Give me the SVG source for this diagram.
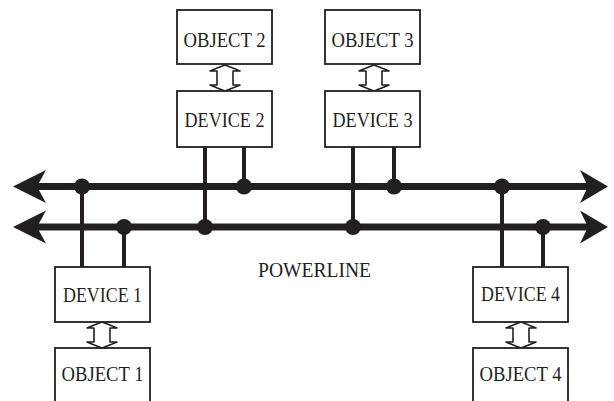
<svg xmlns="http://www.w3.org/2000/svg" width="614" height="401" viewBox="0 0 614 401">
<style>
.box{fill:#fff;stroke:#231f20;stroke-width:1.8}
.lbl{font-family:"Liberation Serif","Times New Roman",serif;font-size:20px;fill:#231f20;text-anchor:middle}
.big{font-size:21px}
.bus{stroke:#231f20;stroke-width:7;fill:none}
.leg{stroke:#231f20;stroke-width:4;fill:none}
.dot{fill:#231f20}
.head{fill:#231f20}
.dbl{fill:#fff;stroke:#231f20;stroke-width:1.6;stroke-linejoin:round}
</style>
<defs>
<path id="dblarrow" class="dbl" d="M0,0 Q-8,3 -15,6 L-8,6 L-8,20 L-15,20 Q-8,23 0,26 Q8,23 15,20 L8,20 L8,6 L15,6 Q8,3 0,0 Z"/>
</defs>
<g id="connectors">
<line class="bus" x1="36" y1="186.5" x2="588" y2="186.5"/>
<line class="bus" x1="36" y1="227" x2="588" y2="227"/>
<path class="head" d="M13,186.5 L46,170 L37,186.5 L46,203 Z"/>
<path class="head" d="M13,227 L46,210.5 L37,227 L46,243.5 Z"/>
<path class="head" d="M608,186.5 L580,170 L588,186.5 L580,203 Z"/>
<path class="head" d="M608,227 L580,210.5 L588,227 L580,243.5 Z"/>
<line class="leg" x1="82" y1="186" x2="82" y2="267"/>
<line class="leg" x1="124" y1="227" x2="124" y2="267"/>
<line class="leg" x1="205" y1="147" x2="205" y2="227"/>
<line class="leg" x1="244" y1="147" x2="244" y2="186"/>
<line class="leg" x1="353" y1="147" x2="353" y2="227"/>
<line class="leg" x1="394" y1="147" x2="394" y2="186"/>
<line class="leg" x1="502" y1="186" x2="502" y2="267"/>
<line class="leg" x1="543" y1="227" x2="543" y2="267"/>
<circle class="dot" cx="82" cy="186.5" r="8"/>
<circle class="dot" cx="244" cy="186.5" r="8"/>
<circle class="dot" cx="394" cy="186.5" r="8"/>
<circle class="dot" cx="502" cy="186.5" r="8"/>
<circle class="dot" cx="124" cy="227" r="8"/>
<circle class="dot" cx="205" cy="227" r="8"/>
<circle class="dot" cx="353" cy="227" r="8"/>
<circle class="dot" cx="543" cy="227" r="8"/>
<use href="#dblarrow" x="225" y="65"/>
<use href="#dblarrow" x="374" y="65"/>
<use href="#dblarrow" x="102" y="322"/>
<use href="#dblarrow" x="521" y="322"/>
</g>
<g id="object2"><rect class="box" x="177" y="10" width="95" height="54"/><text class="lbl" x="224.5" y="47" textLength="82" lengthAdjust="spacingAndGlyphs">OBJECT 2</text></g>
<g id="object3"><rect class="box" x="325" y="10" width="95" height="54"/><text class="lbl" x="372.5" y="47" textLength="82" lengthAdjust="spacingAndGlyphs">OBJECT 3</text></g>
<g id="device2"><rect class="box" x="177" y="91" width="95" height="56"/><text class="lbl" x="224.5" y="127" textLength="80" lengthAdjust="spacingAndGlyphs">DEVICE 2</text></g>
<g id="device3"><rect class="box" x="325" y="91" width="95" height="56"/><text class="lbl" x="372.5" y="127" textLength="80" lengthAdjust="spacingAndGlyphs">DEVICE 3</text></g>
<g id="device1"><rect class="box" x="55" y="267" width="95" height="55"/><text class="lbl" x="102.5" y="302" textLength="79" lengthAdjust="spacingAndGlyphs">DEVICE 1</text></g>
<g id="device4"><rect class="box" x="473" y="267" width="95" height="55"/><text class="lbl" x="520.5" y="301" textLength="79" lengthAdjust="spacingAndGlyphs">DEVICE 4</text></g>
<g id="object1"><rect class="box" x="55" y="348" width="95" height="70"/><text class="lbl" x="102.5" y="381" textLength="82" lengthAdjust="spacingAndGlyphs">OBJECT 1</text></g>
<g id="object4"><rect class="box" x="473" y="348" width="95" height="70"/><text class="lbl" x="520.5" y="381" textLength="82" lengthAdjust="spacingAndGlyphs">OBJECT 4</text></g>
<g id="powerline"><text class="lbl big" x="314.5" y="277" textLength="113" lengthAdjust="spacingAndGlyphs">POWERLINE</text></g>
</svg>
